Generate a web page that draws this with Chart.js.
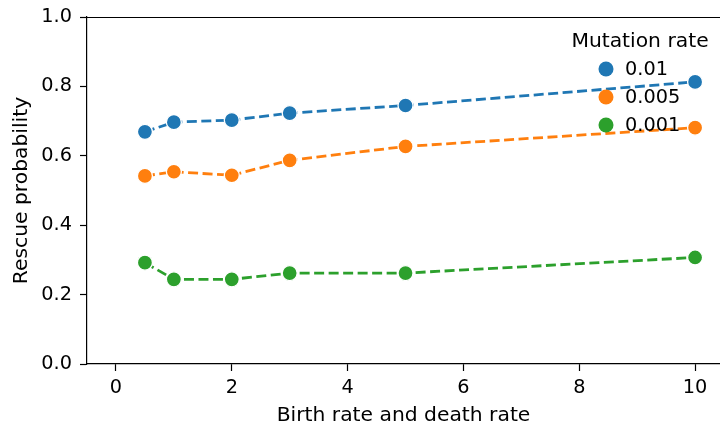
<!DOCTYPE html>
<html>
<head>
<meta charset="utf-8">
<script src="https://cdn.jsdelivr.net/npm/chart.js@4/dist/chart.umd.min.js"></script>
<style>
html,body{margin:0;padding:0;background:#fff;}
#wrap{width:720px;height:428px;position:relative;}
</style>
</head>
<body>
<div id="wrap"><canvas id="c" width="720" height="428"></canvas></div>
<script>
const xValues = [0.5, 1, 2, 3, 5, 10];
const seriesNames = ["0.01", "0.005", "0.001"];
const rate001 = [0.669, 0.697, 0.703, 0.723, 0.745, 0.813];
const rate0005 = [0.542, 0.554, 0.544, 0.587, 0.627, 0.681];
const rate0001 = [0.292, 0.244, 0.244, 0.262, 0.262, 0.307];
const xTicks = [0, 2, 4, 6, 8, 10];
const yTicks = [0.0, 0.2, 0.4, 0.6, 0.8, 1.0];
const colors = ["#1f77b4", "#ff7f0e", "#2ca02c"];
const legendTitle = "Mutation rate";
const xTitle = "Birth rate and death rate";
const yTitle = "Rescue probability";

const FONT = "'DejaVu Sans', sans-serif";
const allSeries = [rate001, rate0005, rate0001];

const datasets = allSeries.map((vals, i) => ({
  label: seriesNames[i],
  data: xValues.map((x, j) => ({x: x, y: vals[j]})),
  borderColor: colors[i],
  backgroundColor: colors[i],
  borderWidth: 2.8,
  borderDash: [10, 4.5],
  pointRadius: 7.5,
  pointHoverRadius: 7.5,
  pointBackgroundColor: colors[i],
  pointBorderColor: "#ffffff",
  pointBorderWidth: 1.3,
  tension: 0,
  fill: false
}));

const framePlugin = {
  id: "frame",
  afterDraw(chart) {
    const ctx = chart.ctx;
    const a = chart.chartArea;
    ctx.save();
    ctx.strokeStyle = "#000";
    ctx.lineWidth = 1.2;
    ctx.beginPath();
    ctx.moveTo(a.left, a.top + 0.5);
    ctx.lineTo(a.right, a.top + 0.5);
    ctx.stroke();
    ctx.fillStyle = "#000";
    ctx.font = "20.3px " + FONT;
    ctx.textAlign = "center";
    ctx.textBaseline = "middle";
    ctx.fillText(legendTitle, a.right - 80, a.top + 25);
    ctx.textAlign = "left";
    ctx.font = "19.3px " + FONT;
    chart.data.datasets.forEach((ds, i) => {
      const y = a.top + 52 + i * 28;
      ctx.beginPath();
      ctx.arc(a.right - 114, y, 7.5, 0, Math.PI * 2);
      ctx.fillStyle = ds.backgroundColor;
      ctx.fill();
      ctx.fillStyle = "#000";
      ctx.fillText(ds.label, a.right - 95, y + 1);
    });
    ctx.restore();
  }
};

new Chart(document.getElementById("c"), {
  type: "line",
  data: { datasets: datasets },
  options: {
    responsive: false,
    animation: false,
    layout: { autoPadding: false, padding: { top: 17, right: 0, left: 0, bottom: 0 } },
    plugins: { legend: { display: false }, tooltip: { enabled: false } },
    scales: {
      x: {
        type: "linear",
        min: -0.5,
        max: 10.43,
        afterFit(s) { s.height = 64; s.paddingRight = 0; s.paddingLeft = 0; },
        afterBuildTicks(s) { s.ticks = xTicks.map(v => ({ value: v })); },
        grid: { display: true, drawOnChartArea: false, drawTicks: true, tickLength: 7, color: "#000", tickWidth: 1.2 },
        border: { display: true, color: "#000", width: 1.2 },
        ticks: { color: "#000", font: { family: FONT, size: 19.3 }, padding: 5, maxRotation: 0, callback: v => String(v) },
        title: { display: true, text: xTitle, color: "#000", font: { family: FONT, size: 20.3 }, padding: { top: 2, bottom: 0 } }
      },
      y: {
        type: "linear",
        min: 0,
        max: 1,
        afterFit(s) { s.width = 87; s.paddingTop = 0; s.paddingBottom = 0; },
        afterBuildTicks(s) { s.ticks = yTicks.map(v => ({ value: v })); },
        grid: { display: true, drawOnChartArea: false, drawTicks: true, tickLength: 7, color: "#000", tickWidth: 1.2 },
        border: { display: true, color: "#000", width: 1.2 },
        ticks: { color: "#000", font: { family: FONT, size: 19.3 }, padding: 8, callback: v => Number(v).toFixed(1) },
        title: { display: true, text: yTitle, color: "#000", font: { family: FONT, size: 20.3 }, padding: { top: 10, bottom: 0 } }
      }
    }
  },
  plugins: [framePlugin]
});
</script>
</body>
</html>
